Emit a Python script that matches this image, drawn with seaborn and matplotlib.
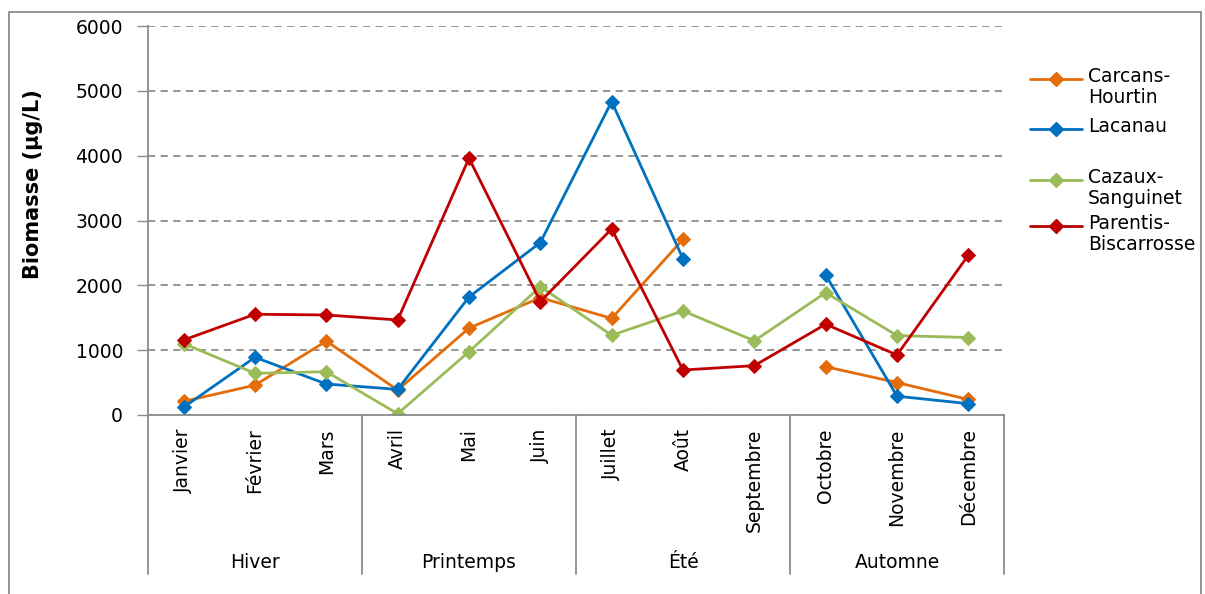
import numpy as np
import pandas as pd
import matplotlib
matplotlib.use('Agg')
import matplotlib.pyplot as plt
from matplotlib.lines import Line2D
from matplotlib.patches import Rectangle
import seaborn as sns

# Data
months = ['Janvier', 'Février', 'Mars', 'Avril', 'Mai', 'Juin',
          'Juillet', 'Août', 'Septembre', 'Octobre', 'Novembre', 'Décembre']
seasons = ['Hiver', 'Printemps', 'Été', 'Automne']
carcans = [210, 460, 1140, 385, 1340, 1810, 1490, 2710, np.nan, 745, 500, 240]
lacanau = [120, 890, 478, 395, 1820, 2660, 4835, 2410, np.nan, 2160, 290, 175]
cazaux = [1100, 643, 668, 20, 977, 1980, 1230, 1605, 1145, 1887, 1225, 1195]
parentis = [1157, 1554, 1543, 1466, 3961, 1750, 2870, 694, 761, 1400, 926, 2465]

series = {
    'Carcans-\nHourtin': (carcans, '#E46C0A'),
    'Lacanau': (lacanau, '#0070C0'),
    'Cazaux-\nSanguinet': (cazaux, '#9BBB59'),
    'Parentis-\nBiscarrosse': (parentis, '#C00000'),
}

sns.set_style('white')
plt.rcParams['font.family'] = ['DejaVu Sans']
plt.rcParams['text.color'] = 'black'
plt.rcParams['xtick.color'] = 'black'
plt.rcParams['ytick.color'] = 'black'
plt.rcParams['axes.labelcolor'] = 'black'
fs = 13.5

fig = plt.figure(figsize=(12.05, 5.94), dpi=100)
ax = fig.add_axes([148 / 1205, 1 - 415 / 594, (1004 - 148) / 1205, (415 - 26) / 594])

pos = np.arange(len(months))
for name, (vals, col) in series.items():
    df = pd.DataFrame({'x': pos, 'y': vals})
    # split into runs so that missing months leave a gap
    df['run'] = df['y'].isna().cumsum()
    df = df.dropna()
    for _, seg in df.groupby('run'):
        sns.lineplot(data=seg, x='x', y='y', ax=ax, color=col, linewidth=2,
                     marker='D', markersize=7, markeredgecolor=col, legend=False)

ax.set_xlim(-0.5, 11.5)
ax.set_ylim(0, 6000)
ax.set_yticks(range(0, 6001, 1000))
ax.set_yticklabels([str(v) for v in range(0, 6001, 1000)], fontsize=fs)
ax.yaxis.grid(True, linestyle=(0, (4, 3)), color='#8c8c8c', linewidth=1.3)
ax.set_axisbelow(True)
ax.tick_params(axis='y', left=True, length=8, color='#8c8c8c', width=1, pad=10)

ax.set_xticks(pos)
ax.set_xticklabels(months, rotation=90, fontsize=fs, va='top')
ax.tick_params(axis='x', bottom=False, pad=6)
ax.set_xlabel('')
ax.set_ylabel('Biomasse (µg/L)', fontsize=15, fontweight='bold')
ax.yaxis.set_label_coords(-0.123, 0.594)

for s in ['top', 'right']:
    ax.spines[s].set_visible(False)
for s in ['left', 'bottom']:
    ax.spines[s].set_color('#8c8c8c')
    ax.spines[s].set_linewidth(1.3)

# season groups below the month labels
tr = ax.get_xaxis_transform()
for b in [-0.5, 2.5, 5.5, 8.5, 11.5]:
    ax.plot([b, b], [0, -0.41], transform=tr, color='#8c8c8c', lw=1.3, clip_on=False)
for i, s in enumerate(seasons):
    ax.text(3 * i + 1, -0.378, s, transform=tr, ha='center', va='center', fontsize=fs)

# legend on the right, handle next to the first label line
ys = [79, 129, 180, 226]
for (name, (vals, col)), ypx in zip(series.items(), ys):
    yf = 1 - ypx / 594
    fig.add_artist(Line2D([1030 / 1205, 1056 / 1205, 1082 / 1205], [yf, yf, yf],
                          transform=fig.transFigure, color=col, lw=2,
                          marker='D', markersize=7, markevery=[1]))
    fig.text(1088 / 1205, yf + 12 / 594, name, fontsize=fs, va='top', ha='left',
             linespacing=1.15)

# chart frame
fig.add_artist(Rectangle((9 / 1205, -0.01), (1201 - 9) / 1205, 1.01 - 12 / 594,
                         transform=fig.transFigure, fill=False,
                         edgecolor='#8c8c8c', lw=1.3))

fig.savefig('out.png', dpi=100)
